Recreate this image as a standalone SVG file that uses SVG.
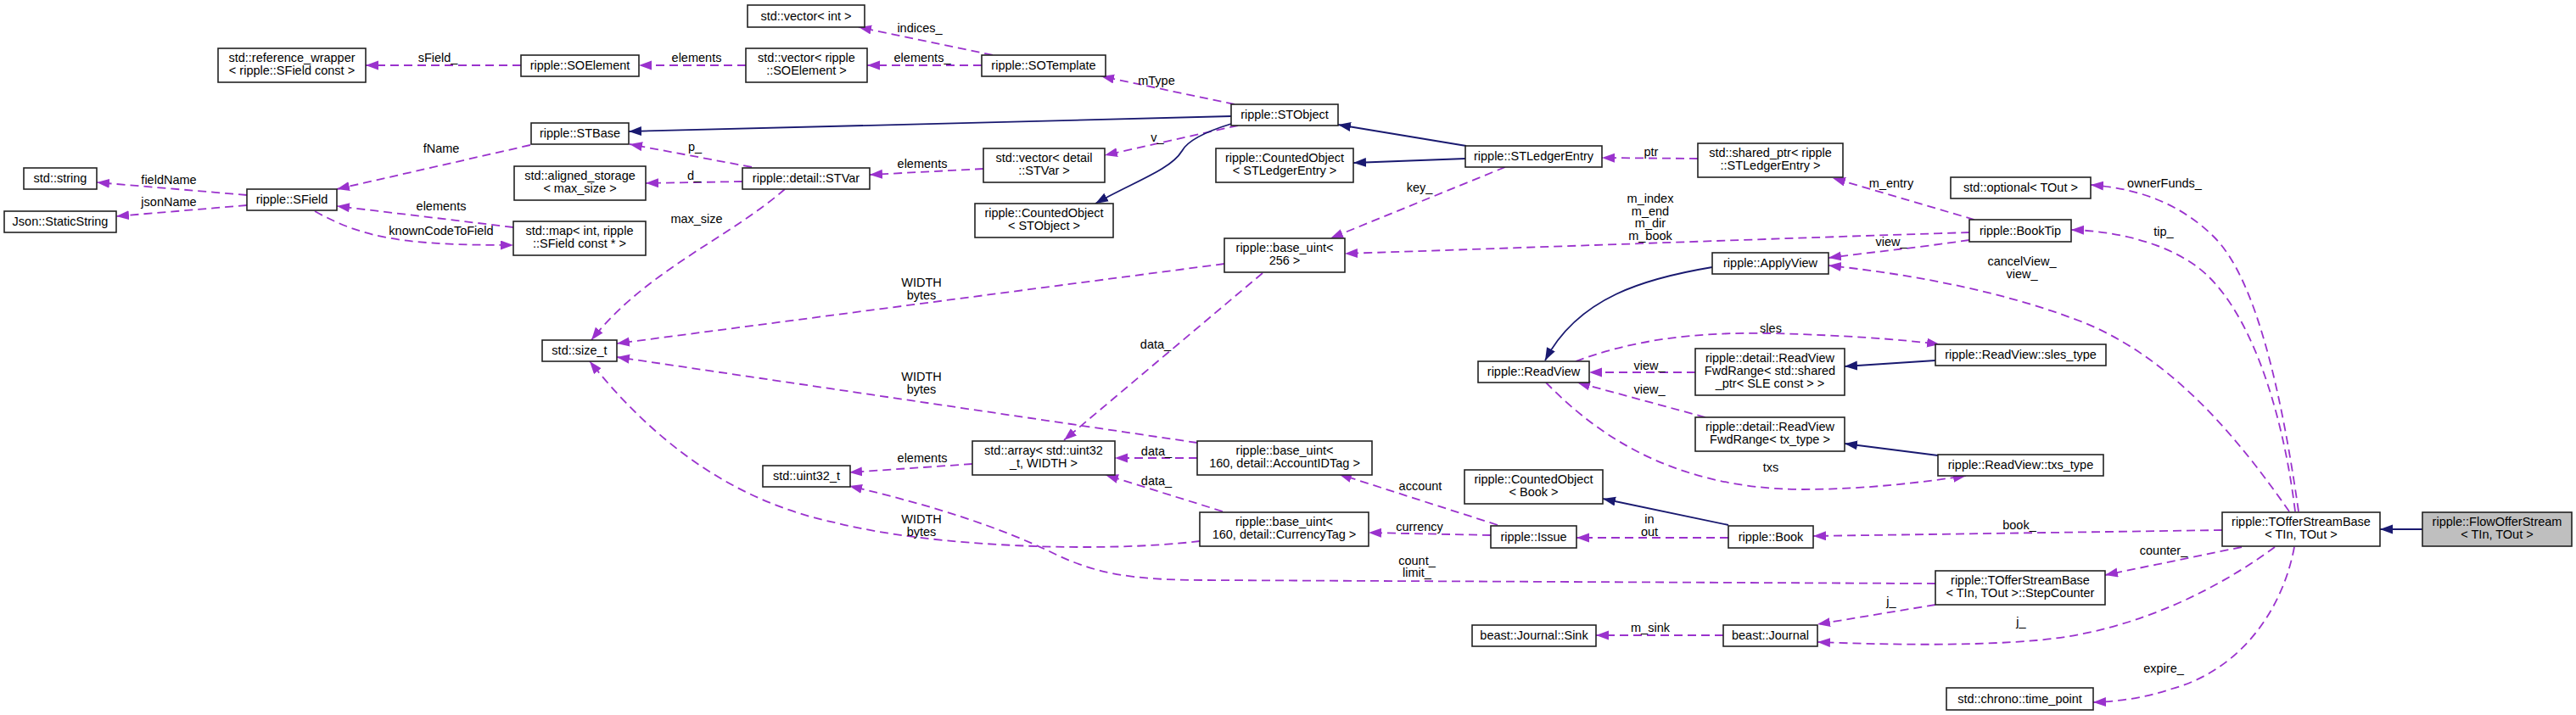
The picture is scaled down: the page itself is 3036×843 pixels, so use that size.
<svg xmlns="http://www.w3.org/2000/svg" width="3036" height="843" viewBox="0 0 3036 843">
<style>
rect{fill:#fff;stroke:#222;stroke-width:1.6}
rect.main{fill:#bfbfbf}
text{font-family:"Liberation Sans",Arial,sans-serif;font-size:14.5px;text-anchor:middle;fill:#000}
.e{fill:none;stroke:#9a32cd;stroke-width:1.8;stroke-dasharray:10,6}
.i{fill:none;stroke:#191970;stroke-width:1.8}
</style>
<defs>
<marker id="pa" markerUnits="userSpaceOnUse" markerWidth="16" markerHeight="12" refX="15" refY="5.5" orient="auto"><path d="M0,0 L15,5.5 L0,11 z" fill="#9a32cd"/></marker>
<marker id="ba" markerUnits="userSpaceOnUse" markerWidth="16" markerHeight="12" refX="15" refY="5.5" orient="auto"><path d="M0,0 L15,5.5 L0,11 z" fill="#191970"/></marker>
</defs>
<rect x="0" y="0" width="3036" height="843" style="fill:#fff;stroke:none"/>
<g id="connectors">
<path class="e" marker-end="url(#pa)" d="M614,77 L431,77"/>
<path class="e" marker-end="url(#pa)" d="M879,77 L753,77"/>
<path class="e" marker-end="url(#pa)" d="M1157,77 L1022,77"/>
<path class="e" marker-end="url(#pa)" d="M1170,65 L1012,32"/>
<path class="e" marker-end="url(#pa)" d="M1455,123 L1298,90"/>
<path class="i" marker-end="url(#ba)" d="M1451,137 L741,155"/>
<path class="e" marker-end="url(#pa)" d="M1459,148 L1302,183"/>
<path class="i" marker-end="url(#ba)" d="M1451,146 C1425,154 1400,165 1393,178 C1380,200 1335,215 1291,240"/>
<path class="e" marker-end="url(#pa)" d="M1159,199 L1025,206"/>
<path class="e" marker-end="url(#pa)" d="M886,197 L742,170"/>
<path class="e" marker-end="url(#pa)" d="M875,214 L761,216"/>
<path class="e" marker-end="url(#pa)" d="M925,223 C860,280 760,320 697,401"/>
<path class="e" marker-end="url(#pa)" d="M625,171 L397,223"/>
<path class="e" marker-end="url(#pa)" d="M291,230 L114,215"/>
<path class="e" marker-end="url(#pa)" d="M291,242 L137,255"/>
<path class="e" marker-end="url(#pa)" d="M605,268 L397,243"/>
<path class="e" marker-end="url(#pa)" d="M371,249 C430,282 480,289 605,289"/>
<path class="e" marker-end="url(#pa)" d="M1443,311 L727,405"/>
<path class="e" marker-end="url(#pa)" d="M1411,522 L727,421"/>
<path class="e" marker-end="url(#pa)" d="M1414,638 C1300,652 1100,645 988,617 C890,597 790,545 695,426"/>
<path class="e" marker-end="url(#pa)" d="M1488,322 L1254,519"/>
<path class="e" marker-end="url(#pa)" d="M1411,540 L1314,540"/>
<path class="e" marker-end="url(#pa)" d="M1441,603 L1303,560"/>
<path class="e" marker-end="url(#pa)" d="M1146,547 L1001,557"/>
<path class="e" marker-end="url(#pa)" d="M2281,688 L1420,684 C1330,684 1290,675 1245,654 C1180,622 1100,596 1001,573"/>
<path class="e" marker-end="url(#pa)" d="M1765,619 L1578,559"/>
<path class="e" marker-end="url(#pa)" d="M1757,631 L1613,628"/>
<path class="e" marker-end="url(#pa)" d="M2037,634 L1858,634"/>
<path class="i" marker-end="url(#ba)" d="M2037,619 L1889,588"/>
<path class="e" marker-end="url(#pa)" d="M2619,625 L2137,632"/>
<path class="i" marker-end="url(#ba)" d="M2018,315 C1940,328 1860,350 1821,425"/>
<path class="e" marker-end="url(#pa)" d="M1998,439 L1873,439"/>
<path class="e" marker-end="url(#pa)" d="M2010,492 L1859,451"/>
<path class="e" marker-end="url(#pa)" d="M1857,426 C1940,395 2020,392 2087,393 C2170,395 2240,400 2286,406"/>
<path class="e" marker-end="url(#pa)" d="M1822,451 C1870,500 1960,577 2126,577 C2200,577 2270,568 2317,561"/>
<path class="i" marker-end="url(#ba)" d="M2281,425 L2174,432"/>
<path class="i" marker-end="url(#ba)" d="M2284,537 L2174,523"/>
<path class="i" marker-end="url(#ba)" d="M1728,172 L1577,147"/>
<path class="i" marker-end="url(#ba)" d="M1727,187 L1595,192"/>
<path class="e" marker-end="url(#pa)" d="M1774,197 L1568,281"/>
<path class="e" marker-end="url(#pa)" d="M2001,187 L1888,186"/>
<path class="e" marker-end="url(#pa)" d="M2327,259 L2160,210"/>
<path class="e" marker-end="url(#pa)" d="M2321,274 C2100,281 1800,292 1585,299"/>
<path class="e" marker-end="url(#pa)" d="M2321,283 C2260,292 2200,298 2155,304"/>
<path class="e" marker-end="url(#pa)" d="M2698,603 C2640,520 2560,420 2450,378 C2350,340 2240,322 2155,313"/>
<path class="e" marker-end="url(#pa)" d="M2705,603 C2690,480 2650,360 2590,315 C2550,285 2490,272 2441,271"/>
<path class="e" marker-end="url(#pa)" d="M2709,603 C2690,470 2660,330 2610,280 C2570,240 2520,222 2464,218"/>
<path class="e" marker-end="url(#pa)" d="M2642,645 L2481,678"/>
<path class="e" marker-end="url(#pa)" d="M2681,645 C2620,690 2520,745 2400,755 C2320,762 2220,760 2142,757"/>
<path class="e" marker-end="url(#pa)" d="M2281,713 L2142,736"/>
<path class="e" marker-end="url(#pa)" d="M2031,749 L1881,749"/>
<path class="e" marker-end="url(#pa)" d="M2704,645 C2690,720 2640,790 2560,812 C2530,822 2500,827 2467,828"/>
<path class="i" marker-end="url(#ba)" d="M2855,624 L2805,624"/>
<text x="516" y="73">sField_</text>
<text x="821" y="73">elements</text>
<text x="1087" y="73">elements_</text>
<text x="1084" y="38">indices_</text>
<text x="1363" y="100">mType</text>
<text x="1364" y="167">v_</text>
<text x="1087" y="198">elements</text>
<text x="819" y="178">p_</text>
<text x="818" y="212">d_</text>
<text x="821" y="263">max_size</text>
<text x="520" y="180">fName</text>
<text x="199" y="217">fieldName</text>
<text x="199" y="243">jsonName</text>
<text x="520" y="248">elements</text>
<text x="520" y="277">knownCodeToField</text>
<text x="1086" y="338">WIDTH</text>
<text x="1086" y="353">bytes</text>
<text x="1086" y="449">WIDTH</text>
<text x="1086" y="464">bytes</text>
<text x="1086" y="617">WIDTH</text>
<text x="1086" y="632">bytes</text>
<text x="1362" y="411">data_</text>
<text x="1363" y="537">data_</text>
<text x="1363" y="572">data_</text>
<text x="1087" y="545">elements</text>
<text x="1670" y="666">count_</text>
<text x="1670" y="680">limit_</text>
<text x="1674" y="578">account</text>
<text x="1673" y="626">currency</text>
<text x="1944" y="617">in</text>
<text x="1944" y="632">out</text>
<text x="2380" y="624">book_</text>
<text x="1944" y="436">view_</text>
<text x="1944" y="464">view_</text>
<text x="2087" y="392">sles</text>
<text x="2087" y="556">txs</text>
<text x="1673" y="226">key_</text>
<text x="1946" y="184">ptr</text>
<text x="2229" y="221">m_entry</text>
<text x="1945" y="239">m_index</text>
<text x="1945" y="254">m_end</text>
<text x="1945" y="268">m_dir</text>
<text x="1945" y="283">m_book</text>
<text x="2229" y="290">view_</text>
<text x="2383" y="313">cancelView_</text>
<text x="2383" y="328">view_</text>
<text x="2550" y="278">tip_</text>
<text x="2551" y="221">ownerFunds_</text>
<text x="2550" y="654">counter_</text>
<text x="2382" y="738">j_</text>
<text x="2229" y="714">j_</text>
<text x="1945" y="745">m_sink</text>
<text x="2550" y="793">expire_</text>
</g>
<g id="refwrap"><rect x="257" y="57" width="174" height="40"/><text x="344" y="73">std::reference_wrapper</text><text x="344" y="88">&lt; ripple::SField const &gt;</text></g>
<g id="SOElement"><rect x="614" y="65" width="139" height="25"/><text x="683.5" y="82">ripple::SOElement</text></g>
<g id="STBase"><rect x="626" y="145" width="115" height="25"/><text x="683.5" y="162">ripple::STBase</text></g>
<g id="aligned"><rect x="606" y="196" width="155" height="40"/><text x="683.5" y="212">std::aligned_storage</text><text x="683.5" y="227">&lt; max_size &gt;</text></g>
<g id="string"><rect x="28" y="198" width="86" height="25"/><text x="71" y="215">std::string</text></g>
<g id="SField"><rect x="291" y="223" width="106" height="25"/><text x="344" y="240">ripple::SField</text></g>
<g id="StaticString"><rect x="5" y="249" width="132" height="25"/><text x="71" y="266">Json::StaticString</text></g>
<g id="map"><rect x="605" y="261" width="156" height="40"/><text x="683" y="277">std::map&lt; int, ripple</text><text x="683" y="292">::SField const * &gt;</text></g>
<g id="size_t"><rect x="639" y="401" width="88" height="25"/><text x="683" y="418">std::size_t</text></g>
<g id="vecint"><rect x="881" y="6" width="138" height="26"/><text x="950" y="24">std::vector&lt; int &gt;</text></g>
<g id="vecSOE"><rect x="879" y="57" width="143" height="40"/><text x="950.5" y="73">std::vector&lt; ripple</text><text x="950.5" y="88">::SOElement &gt;</text></g>
<g id="SOTemplate"><rect x="1157" y="65" width="146" height="25"/><text x="1230" y="82">ripple::SOTemplate</text></g>
<g id="STObject"><rect x="1451" y="123" width="126" height="25"/><text x="1514" y="140">ripple::STObject</text></g>
<g id="STVar"><rect x="875" y="198" width="150" height="25"/><text x="950" y="215">ripple::detail::STVar</text></g>
<g id="vecSTVar"><rect x="1159" y="175" width="143" height="40"/><text x="1230.5" y="191">std::vector&lt; detail</text><text x="1230.5" y="206">::STVar &gt;</text></g>
<g id="COSTObject"><rect x="1149" y="240" width="163" height="40"/><text x="1230.5" y="256">ripple::CountedObject</text><text x="1230.5" y="271">&lt; STObject &gt;</text></g>
<g id="COSTLE"><rect x="1433" y="175" width="162" height="40"/><text x="1514" y="191">ripple::CountedObject</text><text x="1514" y="206">&lt; STLedgerEntry &gt;</text></g>
<g id="STLE"><rect x="1727" y="172" width="161" height="25"/><text x="1807.5" y="189">ripple::STLedgerEntry</text></g>
<g id="sharedptr"><rect x="2001" y="169" width="171" height="40"/><text x="2086.5" y="185">std::shared_ptr&lt; ripple</text><text x="2086.5" y="200">::STLedgerEntry &gt;</text></g>
<g id="base256"><rect x="1443" y="281" width="142" height="40"/><text x="1514" y="297">ripple::base_uint&lt;</text><text x="1514" y="312">256 &gt;</text></g>
<g id="ApplyView"><rect x="2018" y="298" width="137" height="25"/><text x="2086.5" y="315">ripple::ApplyView</text></g>
<g id="optional"><rect x="2299" y="209" width="165" height="25"/><text x="2381.5" y="226">std::optional&lt; TOut &gt;</text></g>
<g id="BookTip"><rect x="2321" y="259" width="120" height="26"/><text x="2381" y="277">ripple::BookTip</text></g>
<g id="sles_type"><rect x="2281" y="406" width="201" height="25"/><text x="2381.5" y="423">ripple::ReadView::sles_type</text></g>
<g id="txs_type"><rect x="2284" y="536" width="195" height="25"/><text x="2381.5" y="553">ripple::ReadView::txs_type</text></g>
<g id="TOfferStreamBase"><rect x="2619" y="604" width="186" height="40"/><text x="2712" y="620">ripple::TOfferStreamBase</text><text x="2712" y="635">&lt; TIn, TOut &gt;</text></g>
<g id="FlowOfferStream"><rect class="main" x="2855" y="604" width="176" height="40"/><text x="2943" y="620">ripple::FlowOfferStream</text><text x="2943" y="635">&lt; TIn, TOut &gt;</text></g>
<g id="ReadView"><rect x="1742" y="426" width="131" height="25"/><text x="1807.5" y="443">ripple::ReadView</text></g>
<g id="FwdRangeSLE"><rect x="1998" y="411" width="176" height="55"/><text x="2086" y="427">ripple::detail::ReadView</text><text x="2086" y="442">FwdRange&lt; std::shared</text><text x="2086" y="457">_ptr&lt; SLE const &gt; &gt;</text></g>
<g id="FwdRangeTx"><rect x="1998" y="492" width="176" height="40"/><text x="2086" y="508">ripple::detail::ReadView</text><text x="2086" y="523">FwdRange&lt; tx_type &gt;</text></g>
<g id="COBook"><rect x="1726" y="554" width="163" height="40"/><text x="1807.5" y="570">ripple::CountedObject</text><text x="1807.5" y="585">&lt; Book &gt;</text></g>
<g id="Issue"><rect x="1757" y="620" width="101" height="26"/><text x="1807.5" y="638">ripple::Issue</text></g>
<g id="Book"><rect x="2037" y="620" width="100" height="26"/><text x="2087" y="638">ripple::Book</text></g>
<g id="base160acc"><rect x="1411" y="520" width="206" height="40"/><text x="1514" y="536">ripple::base_uint&lt;</text><text x="1514" y="551">160, detail::AccountIDTag &gt;</text></g>
<g id="base160cur"><rect x="1414" y="604" width="199" height="40"/><text x="1513.5" y="620">ripple::base_uint&lt;</text><text x="1513.5" y="635">160, detail::CurrencyTag &gt;</text></g>
<g id="array"><rect x="1146" y="520" width="168" height="40"/><text x="1230" y="536">std::array&lt; std::uint32</text><text x="1230" y="551">_t, WIDTH &gt;</text></g>
<g id="uint32"><rect x="899" y="549" width="103" height="25"/><text x="950.5" y="566">std::uint32_t</text></g>
<g id="StepCounter"><rect x="2281" y="673" width="200" height="40"/><text x="2381" y="689">ripple::TOfferStreamBase</text><text x="2381" y="704">&lt; TIn, TOut &gt;::StepCounter</text></g>
<g id="Sink"><rect x="1735" y="737" width="146" height="25"/><text x="1808" y="754">beast::Journal::Sink</text></g>
<g id="Journal"><rect x="2031" y="737" width="111" height="25"/><text x="2086.5" y="754">beast::Journal</text></g>
<g id="timepoint"><rect x="2294" y="811" width="173" height="26"/><text x="2380.5" y="829">std::chrono::time_point</text></g>
</svg>
